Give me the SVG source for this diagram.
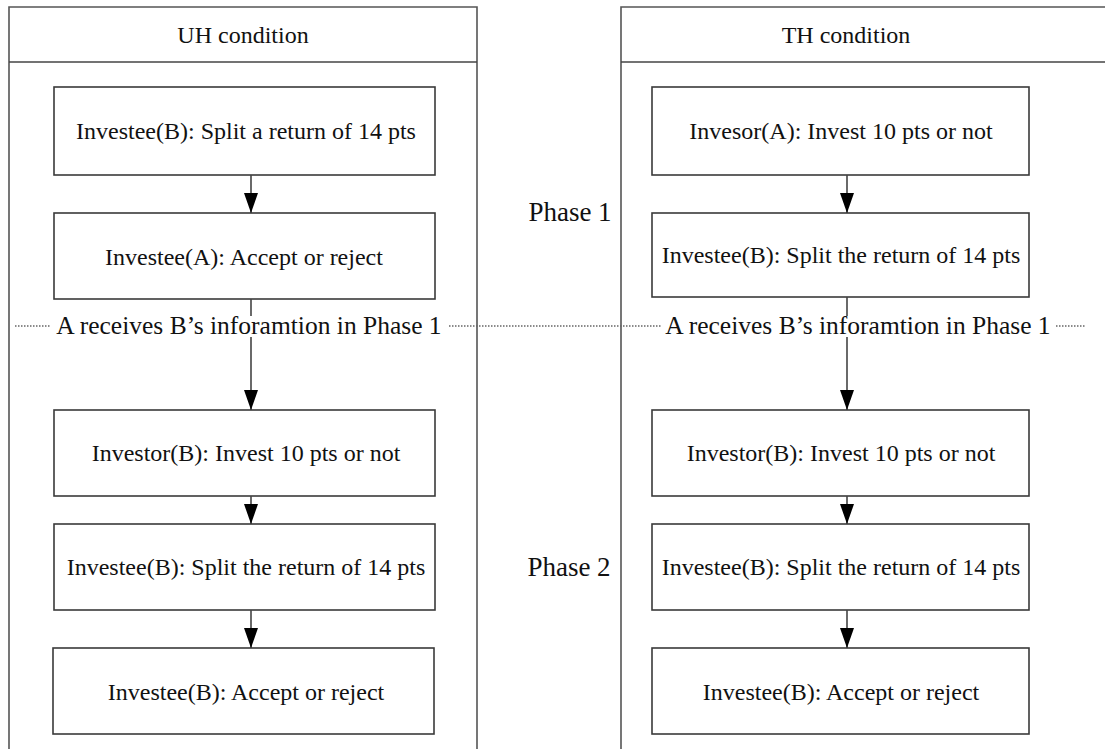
<svg xmlns="http://www.w3.org/2000/svg" width="1105" height="749" viewBox="0 0 1105 749">
  <defs>
    <!-- filled arrowhead drawn along +x so orient="auto" points it down the connector -->
    <marker id="arrow" viewBox="0 0 20 14" refX="20" refY="7" markerWidth="20" markerHeight="14" markerUnits="userSpaceOnUse" orient="auto">
      <path d="M0,0 L20,7 L0,14 Z" fill="#000"/>
    </marker>
    <style>
      .panel { fill: #fff; stroke: #555; stroke-width: 1.6; }
      .box { fill: #fff; stroke: #3a3a3a; stroke-width: 1.6; }
      .t { font-family: "Liberation Serif", "Times New Roman", "DejaVu Serif", serif; font-size: 24px; fill: #111; text-anchor: middle; }
      .info { font-family: "Liberation Serif", "Times New Roman", "DejaVu Serif", serif; font-size: 25.5px; fill: #111; text-anchor: middle; }
      .phase { font-family: "Liberation Serif", "Times New Roman", "DejaVu Serif", serif; font-size: 27px; fill: #111; text-anchor: middle; }
      .link { stroke: #444; stroke-width: 1.6; fill: none; }
      .dots { stroke: #666; stroke-width: 1.3; stroke-dasharray: 1.5 1.5; fill: none; }
    </style>
  </defs>
  <rect width="1105" height="749" fill="#fff"/>

  <!-- condition panels -->
  <g id="panel-uh">
    <path class="panel" d="M9,752 V7 H477 V752"/>
    <line class="link" x1="9" y1="62" x2="477" y2="62"/>
    <text class="t" x="243" y="43">UH condition</text>
  </g>
  <g id="panel-th">
    <path class="panel" d="M621,752 V7 H1110"/>
    <line class="link" x1="621" y1="62" x2="1110" y2="62"/>
    <text class="t" x="846" y="43">TH condition</text>
  </g>

  <!-- UH column -->
  <g id="uh1"><rect class="box" x="54" y="87" width="381" height="88"/><text class="t" x="246" y="139">Investee(B): Split a return of 14 pts</text></g>
  <g id="uh2"><rect class="box" x="54" y="213" width="381" height="86"/><text class="t" x="244" y="265">Investee(A): Accept or reject</text></g>
  <g id="uh3"><rect class="box" x="54" y="410" width="381" height="86"/><text class="t" x="246" y="461">Investor(B): Invest 10 pts or not</text></g>
  <g id="uh4"><rect class="box" x="54" y="524" width="381" height="86"/><text class="t" x="246" y="575">Investee(B): Split the return of 14 pts</text></g>
  <g id="uh5"><rect class="box" x="53" y="648" width="381" height="86"/><text class="t" x="246" y="700">Investee(B): Accept or reject</text></g>

  <!-- TH column -->
  <g id="th1"><rect class="box" x="652" y="87" width="377" height="88"/><text class="t" x="841" y="139">Invesor(A): Invest 10 pts or not</text></g>
  <g id="th2"><rect class="box" x="652" y="213" width="377" height="84"/><text class="t" x="841" y="263">Investee(B): Split the return of 14 pts</text></g>
  <g id="th3"><rect class="box" x="652" y="410" width="377" height="86"/><text class="t" x="841" y="461">Investor(B): Invest 10 pts or not</text></g>
  <g id="th4"><rect class="box" x="652" y="524" width="377" height="86"/><text class="t" x="841" y="575">Investee(B): Split the return of 14 pts</text></g>
  <g id="th5"><rect class="box" x="652" y="648" width="377" height="86"/><text class="t" x="841" y="700">Investee(B): Accept or reject</text></g>

  <!-- phase labels -->
  <g id="phase1"><text class="phase" x="570" y="221">Phase 1</text></g>
  <g id="phase2"><text class="phase" x="569" y="576">Phase 2</text></g>

  <!-- information transfer between phases -->
  <g id="info">
    <line class="dots" x1="15" y1="326" x2="50" y2="326"/>
    <text class="info" x="249" y="334">A receives B’s inforamtion in Phase 1</text>
    <line class="dots" x1="449" y1="326" x2="662" y2="326"/>
    <text class="info" x="858" y="334">A receives B’s inforamtion in Phase 1</text>
    <line class="dots" x1="1056" y1="326" x2="1085" y2="326"/>
  </g>

  <!-- connectors -->
  <g id="connectors">
    <line class="link" x1="251" y1="175" x2="251" y2="213" marker-end="url(#arrow)"/>
    <line class="link" x1="251" y1="299" x2="251" y2="316"/>
    <line class="link" x1="251" y1="337" x2="251" y2="410" marker-end="url(#arrow)"/>
    <line class="link" x1="251" y1="496" x2="251" y2="524" marker-end="url(#arrow)"/>
    <line class="link" x1="251" y1="610" x2="251" y2="648" marker-end="url(#arrow)"/>

    <line class="link" x1="847" y1="175" x2="847" y2="213" marker-end="url(#arrow)"/>
    <line class="link" x1="847" y1="297" x2="847" y2="316"/>
    <line class="link" x1="847" y1="337" x2="847" y2="410" marker-end="url(#arrow)"/>
    <line class="link" x1="847" y1="496" x2="847" y2="524" marker-end="url(#arrow)"/>
    <line class="link" x1="847" y1="610" x2="847" y2="648" marker-end="url(#arrow)"/>
  </g>
</svg>
